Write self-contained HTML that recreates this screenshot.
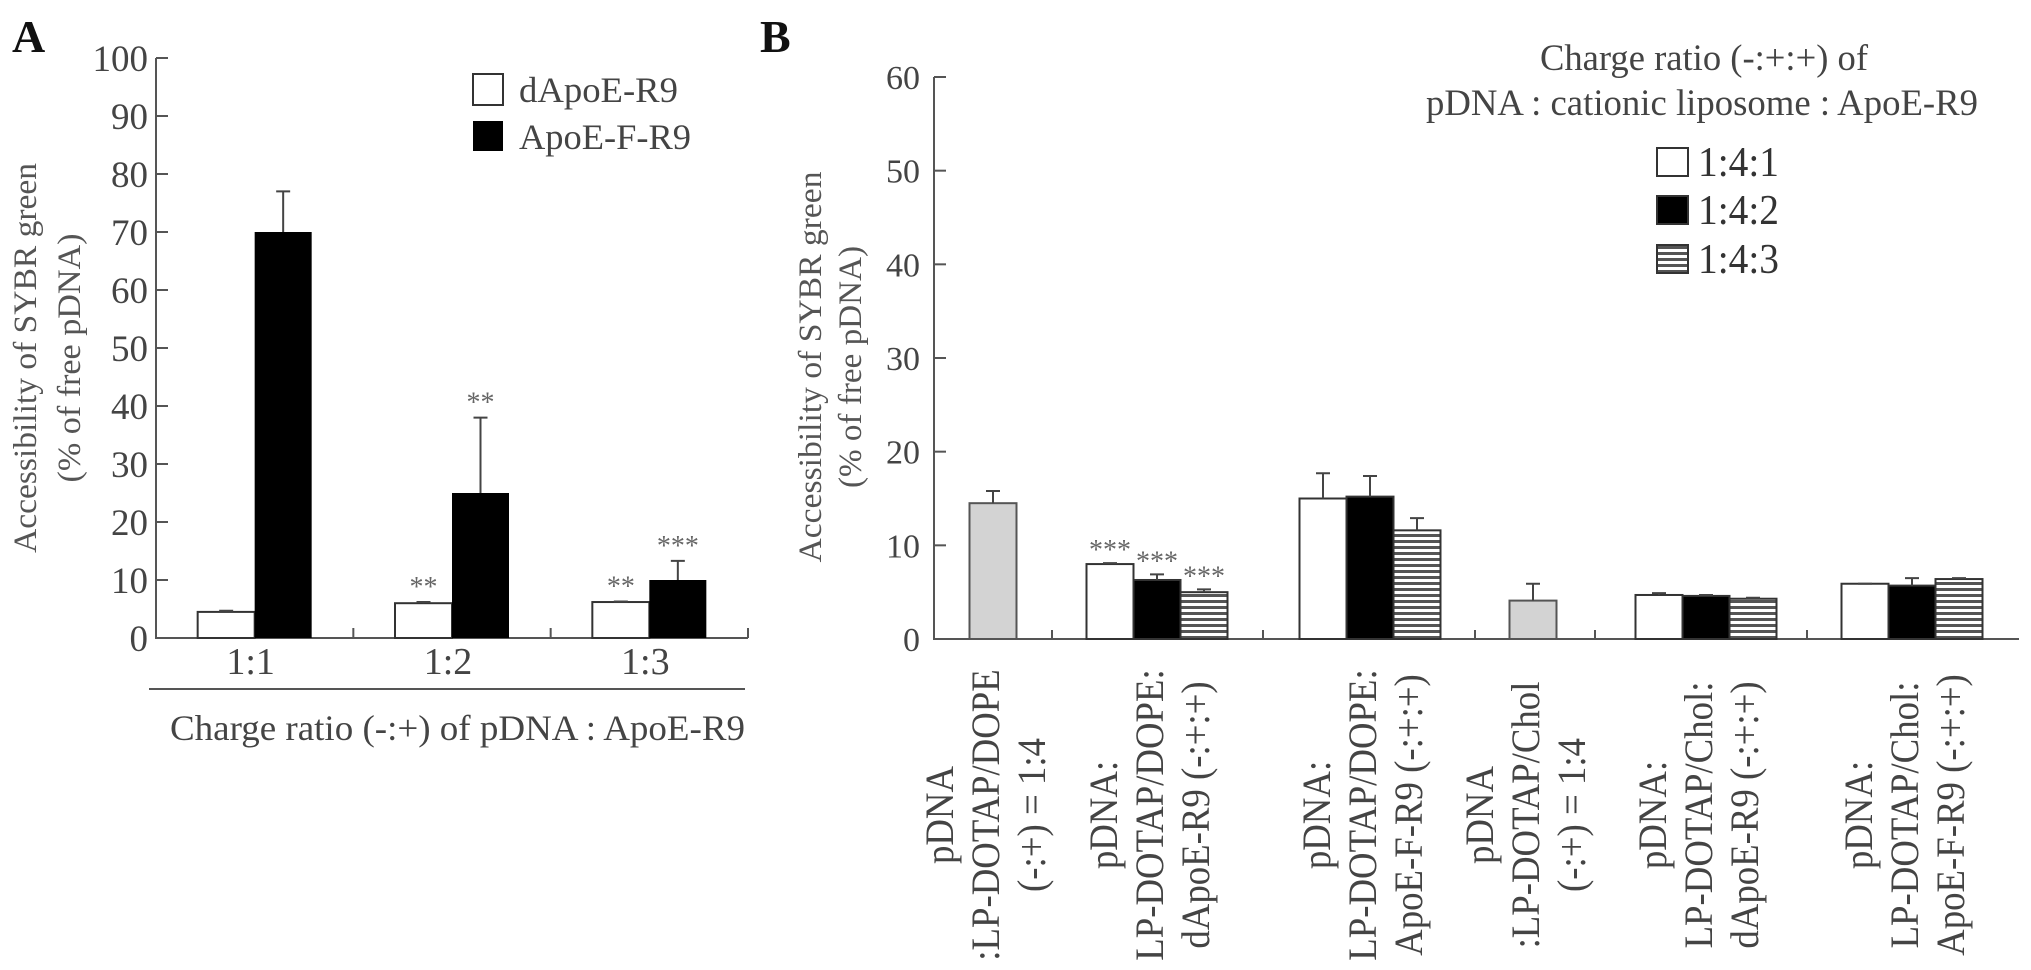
<!DOCTYPE html>
<html><head><meta charset="utf-8"><style>
html,body{margin:0;padding:0;background:#fff;}
svg{display:block;font-family:"Liberation Serif",serif;}
</style></head><body>
<svg id="fig" width="2031" height="970" viewBox="0 0 2031 970" xmlns="http://www.w3.org/2000/svg">
<defs>
<pattern id="hatch" width="8" height="6" patternUnits="userSpaceOnUse"><rect width="8" height="6" fill="#fff"/><rect y="0" width="8" height="3" fill="#555"/></pattern>
</defs>
<text x="12" y="52" font-size="46" font-weight="bold" fill="#111">A</text>
<text x="760" y="52" font-size="46" font-weight="bold" fill="#111">B</text>
<g id="A"></g>
<g id="B"></g>
</svg>
<script>
// ---------- Panel A data ----------
const catsA = ["1:1","1:2","1:3"];
const seriesANames = ["dApoE-R9","ApoE-F-R9"];
const valsWhiteA = [4.5, 6.0, 6.2];
const errWhiteA = [4.7, 6.2, 6.3];
const valsBlackA = [70, 25, 10];
const errBlackA = [77, 38, 13.3];
const starsWhiteA = ["", "**", "**"];
const starsBlackA = ["", "**", "***"];
const ticksA = [0,10,20,30,40,50,60,70,80,90,100];

// ---------- Panel B data ----------
const catsB = [
 ["pDNA",":LP-DOTAP/DOPE","(-:+) = 1:4"],
 ["pDNA:","LP-DOTAP/DOPE:","dApoE-R9 (-:+:+)"],
 ["pDNA:","LP-DOTAP/DOPE:","ApoE-F-R9 (-:+:+)"],
 ["pDNA",":LP-DOTAP/Chol","(-:+) = 1:4"],
 ["pDNA:","LP-DOTAP/Chol:","dApoE-R9 (-:+:+)"],
 ["pDNA:","LP-DOTAP/Chol:","ApoE-F-R9 (-:+:+)"]
];
const controlB = [14.5, null, null, 4.1, null, null];
const controlErrB = [15.8, null, null, 5.9, null, null];
const vals141 = [null, 8.0, 15.0, null, 4.7, 5.9];
const err141 = [null, 8.1, 17.7, null, 4.9, 5.9];
const vals142 = [null, 6.3, 15.2, null, 4.6, 5.7];
const err142 = [null, 6.9, 17.4, null, 4.7, 6.5];
const vals143 = [null, 5.0, 11.6, null, 4.3, 6.4];
const err143 = [null, 5.3, 12.9, null, 4.4, 6.5];
const starsB = [null, ["***","***","***"], null, null, null, null];
const ticksB = [0,10,20,30,40,50,60];
const legendB = ["1:4:1","1:4:2","1:4:3"];

const NS="http://www.w3.org/2000/svg";
function mk(parent, tag, attrs, text){
  const e=document.createElementNS(NS,tag);
  for(const k in attrs) e.setAttribute(k, attrs[k]);
  if(text!==undefined) e.textContent=text;
  parent.appendChild(e); return e;
}

// ---------- Panel A ----------
(function(){
  const g=document.getElementById('A');
  const x0=156, x1=748, yTop=58, yBot=638, vMax=100;
  const yA=v=>yBot-(v/vMax)*(yBot-yTop);
  const groupW=(x1-x0)/catsA.length;
  const barW=57;
  const ax=mk(g,'path',{d:`M${x0},${yTop}V${yBot}H${x1}`,stroke:'#555','stroke-width':2,fill:'none'});
   
  ticksA.forEach(t=>{
    mk(g,'line',{x1:x0,x2:x0+12,y1:yA(t),y2:yA(t),stroke:'#555','stroke-width':2});
    const tl=mk(g,'text',{x:x0-8,y:yA(t)+13,'font-size':37,'text-anchor':'end',fill:'#444'},t);
     
  });
  for(let i=1;i<=catsA.length;i++){
    const tx=x0+groupW*i;
    mk(g,'line',{x1:tx,x2:tx,y1:yBot,y2:yBot-10,stroke:'#555','stroke-width':2});
  }
  catsA.forEach((c,i)=>{
    const cx=x0+groupW*(i+0.5);
    const wb=mk(g,'rect',{x:cx-barW,y:yA(valsWhiteA[i]),width:barW,height:yBot-yA(valsWhiteA[i]),fill:'#fff',stroke:'#333','stroke-width':2});
     
    mk(g,'path',{d:`M${cx-barW/2},${yA(valsWhiteA[i])}V${yA(errWhiteA[i])}M${cx-barW/2-7},${yA(errWhiteA[i])}H${cx-barW/2+7}`,stroke:'#444','stroke-width':2,fill:'none'});
    const bb=mk(g,'rect',{x:cx,y:yA(valsBlackA[i]),width:barW,height:yBot-yA(valsBlackA[i]),fill:'#000'});
     
    mk(g,'path',{d:`M${cx+barW/2},${yA(valsBlackA[i])}V${yA(errBlackA[i])}M${cx+barW/2-7},${yA(errBlackA[i])}H${cx+barW/2+7}`,stroke:'#444','stroke-width':2,fill:'none'});
    if(starsWhiteA[i]){const s=mk(g,'text',{x:cx-barW/2,y:yA(errWhiteA[i])-6,'font-size':28,'text-anchor':'middle',fill:'#666'},starsWhiteA[i]);
       }
    if(starsBlackA[i]){const s=mk(g,'text',{x:cx+barW/2,y:yA(errBlackA[i])-6,'font-size':28,'text-anchor':'middle',fill:'#666'},starsBlackA[i]);
       }
    const cl=mk(g,'text',{x:cx-4,y:yBot+36,'font-size':38,'text-anchor':'middle',fill:'#444'},c);
     
  });
  mk(g,'line',{x1:149,x2:745,y1:689,y2:689,stroke:'#555','stroke-width':2});
  const xt=mk(g,'text',{x:170,y:740,'font-size':36,fill:'#444',textLength:575,lengthAdjust:'spacingAndGlyphs'},'Charge ratio (-:+) of pDNA : ApoE-R9');
   
  const yt=mk(g,'g',{transform:'translate(0,358) rotate(-90)'});
   
  mk(yt,'text',{x:0,y:36,'font-size':33,'text-anchor':'middle',fill:'#555',textLength:390,lengthAdjust:'spacingAndGlyphs'},'Accessibility of SYBR green');
  mk(yt,'text',{x:0,y:80,'font-size':33,'text-anchor':'middle',fill:'#555',textLength:249,lengthAdjust:'spacingAndGlyphs'},'(% of free pDNA)');
  const lg=mk(g,'g',{});
   
  mk(lg,'rect',{x:473,y:74,width:30,height:31,fill:'#fff',stroke:'#333','stroke-width':2});
  mk(lg,'text',{x:519,y:102,'font-size':36,fill:'#444',textLength:159,lengthAdjust:'spacingAndGlyphs'},seriesANames[0]);
  mk(lg,'rect',{x:473,y:121,width:30,height:30,fill:'#000'});
  mk(lg,'text',{x:519,y:149,'font-size':36,fill:'#444',textLength:172,lengthAdjust:'spacingAndGlyphs'},seriesANames[1]);
})();

// ---------- Panel B ----------
(function(){
  const g=document.getElementById('B');
  const x0=934, x1=2019, yTop=77, yBot=639, vMax=60;
  const yB=v=>yBot-(v/vMax)*(yBot-yTop);
  const groupCenterPx=[993,1157,1370,1533,1706,1912];
  const tickPx=[1052,1263,1475,1595,1807];
  const barW=47;
  const ax=mk(g,'path',{d:`M${x0},${yTop}V${yBot}H${x1}`,stroke:'#555','stroke-width':2,fill:'none'});
   
  ticksB.forEach(t=>{
    mk(g,'line',{x1:x0,x2:x0+12,y1:yB(t),y2:yB(t),stroke:'#555','stroke-width':2});
    const tl=mk(g,'text',{x:x0-14,y:yB(t)+12,'font-size':34,'text-anchor':'end',fill:'#444'},t);
     
  });
  tickPx.forEach(tx=>mk(g,'line',{x1:tx,x2:tx,y1:yBot,y2:yBot-9,stroke:'#555','stroke-width':2}));
  function errBar(cx,v,e){
    mk(g,'path',{d:`M${cx},${yB(v)}V${yB(e)}M${cx-7},${yB(e)}H${cx+7}`,stroke:'#444','stroke-width':2,fill:'none'});
  }
  catsB.forEach((lines,i)=>{
    const cx=groupCenterPx[i];
    if(controlB[i]!==null){
      const b=mk(g,'rect',{x:cx-barW/2,y:yB(controlB[i]),width:barW,height:yBot-yB(controlB[i]),fill:'#d3d3d3',stroke:'#555','stroke-width':2});
       
      errBar(cx,controlB[i],controlErrB[i]);
    } else {
      const sets=[[vals141,err141,'#fff','bar-141'],[vals142,err142,'#000','bar-142'],[vals143,err143,'url(#hatch)','bar-143']];
      sets.forEach((s,k)=>{
        const bx=cx-1.5*barW+k*barW;
        const v=s[0][i];
        const b=mk(g,'rect',{x:bx,y:yB(v),width:barW,height:yBot-yB(v),fill:s[2],stroke:'#333','stroke-width':2});
         
        errBar(bx+barW/2,v,s[1][i]);
        if(starsB[i]){const st=mk(g,'text',{x:bx+barW/2,y:yB(s[1][i])-4,'font-size':28,'text-anchor':'middle',fill:'#666'},starsB[i][k]);
           }
      });
    }
    const lab=mk(g,'g',{transform:`translate(${cx-8},815) rotate(-90)`});
     
    lines.forEach((t,k)=>{
      const tg=mk(lab,'g',{transform:`translate(0,${(k-1)*46+14}) scale(0.92,1)`});
      mk(tg,'text',{x:0,y:0,'font-size':40,'text-anchor':'middle',fill:'#444'},t);
    });
  });
  const yt=mk(g,'g',{transform:'translate(0,367) rotate(-90)'});
   
  mk(yt,'text',{x:0,y:821,'font-size':33,'text-anchor':'middle',fill:'#555',textLength:391,lengthAdjust:'spacingAndGlyphs'},'Accessibility of SYBR green');
  mk(yt,'text',{x:0,y:861,'font-size':33,'text-anchor':'middle',fill:'#555',textLength:242,lengthAdjust:'spacingAndGlyphs'},'(% of free pDNA)');
  const lg=mk(g,'g',{});
   
  mk(lg,'text',{x:1540,y:70,'font-size':37,fill:'#444',textLength:328,lengthAdjust:'spacingAndGlyphs'},'Charge ratio (-:+:+) of');
  mk(lg,'text',{x:1426,y:115,'font-size':37,fill:'#444',textLength:552,lengthAdjust:'spacingAndGlyphs'},'pDNA : cationic liposome : ApoE-R9');
  const fills=['#fff','#000','url(#hatch)'];
  const boxTop=[148,196,245];
  legendB.forEach((t,k)=>{
    const y=boxTop[k];
    mk(lg,'rect',{x:1657,y:y,width:31,height:28,fill:fills[k],stroke:'#333','stroke-width':2});
    mk(lg,'text',{x:1698,y:y+28,'font-size':42,fill:'#333',textLength:81,lengthAdjust:'spacingAndGlyphs'},t);
  });
})();
</script>
</body></html>
